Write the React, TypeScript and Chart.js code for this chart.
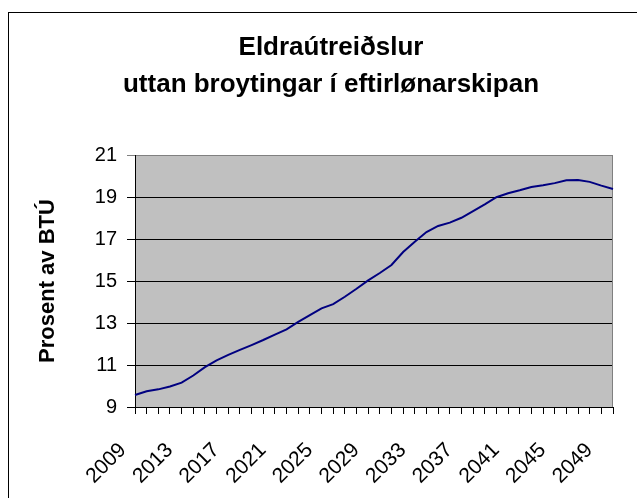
import { useEffect, useRef } from 'react';
import { Chart, registerables } from 'chart.js';

Chart.register(...registerables);

const titleLines = ['Eldraútreiðslur', 'uttan broytingar í eftirlønarskipan'];
const yAxisTitle = 'Prosent av BTÚ';

const years = [
  '2009', '2010', '2011', '2012', '2013', '2014', '2015', '2016', '2017', '2018',
  '2019', '2020', '2021', '2022', '2023', '2024', '2025', '2026', '2027', '2028',
  '2029', '2030', '2031', '2032', '2033', '2034', '2035', '2036', '2037', '2038',
  '2039', '2040', '2041', '2042', '2043', '2044', '2045', '2046', '2047', '2048',
  '2049', '2050',
];

const values = [
  9.57, 9.75, 9.84, 9.98, 10.16, 10.5, 10.9, 11.22, 11.48, 11.72,
  11.95, 12.19, 12.45, 12.7, 13.05, 13.38, 13.7, 13.9, 14.25, 14.63,
  15.03, 15.38, 15.76, 16.38, 16.87, 17.33, 17.62, 17.78, 18.01, 18.33,
  18.65, 18.99, 19.18, 19.32, 19.48, 19.56, 19.66, 19.8, 19.81, 19.72,
  19.54, 19.38,
];

const shownYearLabels = ['2009', '2013', '2017', '2021', '2025', '2029', '2033', '2037', '2041', '2045', '2049'];

const yMin = 9;
const yMax = 21;
const yStep = 2;

const FONT = "'Liberation Sans', Arial, Helvetica, sans-serif";

export default function App() {
  const ref = useRef<HTMLCanvasElement>(null);

  useEffect(() => {
    if (!ref.current) return;

    const plotBg = {
      id: 'plotBg',
      beforeDraw(chart: any) {
        const { ctx, chartArea: a } = chart;
        ctx.save();
        ctx.fillStyle = '#C0C0C0';
        ctx.fillRect(a.left, a.top, a.right - a.left, a.bottom - a.top);
        ctx.restore();
      },
      beforeDatasetsDraw(chart: any) {
        const { ctx, chartArea: a } = chart;
        ctx.save();
        ctx.strokeStyle = '#808080';
        ctx.lineWidth = 1;
        ctx.beginPath();
        const x = Math.round(a.right) - 0.5;
        ctx.moveTo(x, a.top);
        ctx.lineTo(x, a.bottom);
        ctx.stroke();
        ctx.restore();
      },
    };

    const titleText = {
      id: 'titleText',
      afterDraw(chart: any) {
        const { ctx } = chart;
        ctx.save();
        ctx.font = `bold 26px ${FONT}`;
        ctx.fillStyle = '#000';
        ctx.textAlign = 'center';
        ctx.textBaseline = 'middle';
        ctx.fillText(titleLines[0], 331, 48);
        ctx.fillText(titleLines[1], 331, 85);
        ctx.restore();
      },
    };

    const chart = new Chart(ref.current, {
      type: 'line',
      data: {
        labels: years,
        datasets: [
          {
            data: values,
            borderColor: '#000080',
            borderWidth: 2,
            pointRadius: 0,
            tension: 0,
            fill: false,
          },
        ],
      },
      options: {
        animation: false,
        responsive: false,
        devicePixelRatio: 1,
        layout: { padding: { top: 155, left: 35, right: 24, bottom: 0 } },
        plugins: {
          legend: { display: false },
          title: { display: false },
          tooltip: { enabled: false },
        },
        scales: {
          x: {
            type: 'category',
            offset: false,
            grid: {
              display: true,
              drawOnChartArea: false,
              drawTicks: true,
              tickLength: 7,
              color: '#000',
            },
            border: { display: true, color: '#000', width: 1 },
            ticks: {
              autoSkip: false,
              maxRotation: 45,
              minRotation: 45,
              padding: 24,
              labelOffset: -12,
              color: '#000',
              font: { family: FONT, size: 21 },
              callback: function (this: any, _v: any, index: number) {
                const lab = years[index];
                return shownYearLabels.includes(lab) ? lab : '';
              },
            },
            afterFit(scale: any) {
              scale.height = 91;
              scale.paddingLeft = 0;
              scale.paddingRight = 0;
            },
          },
          y: {
            min: yMin,
            max: yMax,
            grid: {
              color: (ctx: any) => (ctx.tick && ctx.tick.value === yMax ? '#808080' : '#000'),
              tickLength: 8,
              drawTicks: true,
            },
            border: { display: true, color: '#000', width: 1 },
            ticks: {
              stepSize: yStep,
              padding: 10,
              color: '#000',
              font: { family: FONT, size: 20 },
            },
            title: {
              display: true,
              text: yAxisTitle,
              color: '#000',
              padding: 0,
              font: { family: FONT, size: 22, weight: 'bold' },
            },
            afterFit(scale: any) {
              scale.width = 100;
            },
          },
        },
      },
      plugins: [plotBg, titleText],
    });

    return () => chart.destroy();
  }, []);

  return (
    <div
      style={{
        position: 'fixed',
        left: 0,
        top: 0,
        width: 637,
        height: 498,
        overflow: 'hidden',
        background: '#fff',
      }}
    >
      <canvas
        ref={ref}
        width={637}
        height={498}
        style={{ position: 'absolute', left: 0, top: 0, width: 637, height: 498 }}
      />
      <div
        style={{
          position: 'absolute',
          left: 8,
          top: 12,
          width: 700,
          height: 600,
          border: '1px solid #000',
          pointerEvents: 'none',
        }}
      />
    </div>
  );
}
